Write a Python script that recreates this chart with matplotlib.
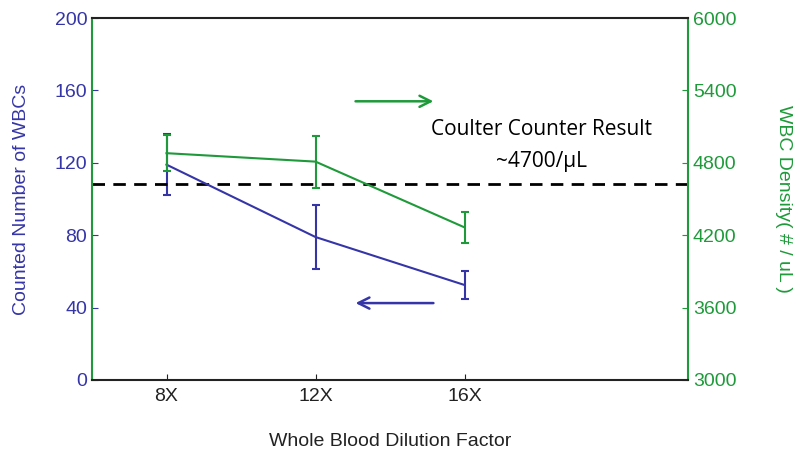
import numpy as np
import matplotlib.pyplot as plt

plt.rcParams['font.family'] = ['Liberation Sans', 'DejaVu Sans']

# data
dilution = ["8X", "12X", "16X"]
wbc_count = [119, 79, 52.5]
wbc_count_err = [17, 17.5, 8]
wbc_density = [4880, 4810, 4265]
wbc_density_err = [150, 215, 130]
coulter_level = 108.5  # on left axis scale

blue = "#3535A8"
green = "#1E9A3A"

x = np.arange(1, len(dilution) + 1)

fig = plt.figure(figsize=(8, 4.57), dpi=100)
ax = fig.add_axes([0.115, 0.1685, 0.745, 0.792])
ax2 = ax.twinx()

ax.errorbar(x, wbc_count, yerr=wbc_count_err, color=blue, lw=1.5,
            capsize=3, capthick=1.5, elinewidth=1.5)
ax2.errorbar(x, wbc_density, yerr=wbc_density_err, color=green, lw=1.5,
             capsize=3, capthick=1.5, elinewidth=1.5)

ax.axhline(coulter_level, color="black", lw=2, ls=(0, (4.5, 3)))

ax.set_xlim(0.5, 4.5)
ax.set_ylim(0, 200)
ax2.set_ylim(3000, 6000)
ax.set_xticks(x)
ax.set_xticklabels(dilution)
ax.set_yticks(np.arange(0, 201, 40))
ax2.set_yticks(np.arange(3000, 6001, 600))

ax.tick_params(direction="in", length=4, labelsize=14, colors="#222222")
ax.tick_params(axis="y", colors=blue)
ax2.tick_params(direction="in", length=4, labelsize=14, colors=green)
ax.tick_params(axis="x", colors="#222222", pad=6)

for sp in ["top", "bottom"]:
    ax2.spines[sp].set_color("#222222")
    ax2.spines[sp].set_linewidth(1.5)
ax2.spines["left"].set_color(green)
ax2.spines["right"].set_color(green)
ax2.spines["left"].set_linewidth(1.5)
ax2.spines["right"].set_linewidth(1.5)
for sp in ax.spines.values():
    sp.set_visible(False)

ax.set_xlabel("Whole Blood Dilution Factor", fontsize=14, color="#222222", labelpad=20)
ax.set_ylabel("Counted Number of WBCs", fontsize=14, color=blue, labelpad=18)
ax2.set_ylabel("WBC Density( # / uL )", fontsize=14, color=green, rotation=270, labelpad=40)

# direction arrows
ax.annotate("", xy=(2.81, 154), xytext=(2.25, 154),
            arrowprops=dict(arrowstyle="->", color=green, lw=1.8, mutation_scale=20))
ax.annotate("", xy=(2.25, 42.5), xytext=(2.81, 42.5),
            arrowprops=dict(arrowstyle="->", color=blue, lw=1.8, mutation_scale=20))

ax.text(3.52, 138.5, "Coulter Counter Result", ha="center", va="center",
        fontsize=15, family=["Open Sans", "DejaVu Sans"], color="black")
ax.text(3.52, 121, "~4700/\u03bcL", ha="center", va="center",
        fontsize=15, family=["Open Sans", "DejaVu Sans"], color="black")

fig.savefig("out.png", dpi=100)
